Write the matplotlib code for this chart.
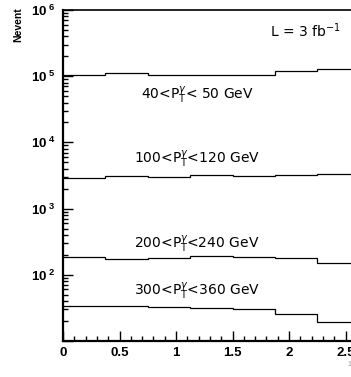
import numpy as np
import matplotlib
matplotlib.use('Agg')
import matplotlib.pyplot as plt
from matplotlib.ticker import FixedLocator, LogLocator, FuncFormatter, NullFormatter

plt.rcParams['font.family'] = ['Liberation Sans', 'DejaVu Sans']
plt.rcParams['mathtext.fontset'] = 'custom'
plt.rcParams['mathtext.rm'] = 'DejaVu Sans'
plt.rcParams['mathtext.it'] = 'DejaVu Sans:italic'
plt.rcParams['mathtext.bf'] = 'Liberation Sans:bold'

# eta bins (width 0.375)
edges = [0, 0.375, 0.75, 1.125, 1.5, 1.875, 2.25, 2.625]

# number of events per bin for each photon pT window
n_40_50 = [1.05e5, 1.10e5, 1.04e5, 1.06e5, 1.06e5, 1.21e5, 1.30e5]
n_100_120 = [2.91e3, 3.12e3, 3.01e3, 3.27e3, 3.16e3, 3.27e3, 3.39e3]
n_200_240 = [185, 175, 179, 189, 185, 179, 150]
n_300_360 = [33.6, 34.3, 32.4, 31.3, 30.2, 25.9, 19.6]

labels = [r'40<P$_{\rm T}^{\gamma}$< 50 GeV', r'100<P$_{\rm T}^{\gamma}$<120 GeV',
          r'200<P$_{\rm T}^{\gamma}$<240 GeV', r'300<P$_{\rm T}^{\gamma}$<360 GeV']

W, H = 351, 377
fig = plt.figure(figsize=(W / 100, H / 100), dpi=100)
# frame runs past the right edge of the page
ax = fig.add_axes([63 / W, 1 - 341 / H, 339 / W, 331 / H])

for n in [n_40_50, n_100_120, n_200_240, n_300_360]:
    ax.stairs(n, edges, color='black', lw=0.9, baseline=None)

ax.set_yscale('log')
ax.set_ylim(10, 1e6)
ax.set_xlim(0, 3)

for s in ['left', 'bottom']:
    ax.spines[s].set_linewidth(1.6)
ax.spines['top'].set_linewidth(1.2)
ax.spines['right'].set_linewidth(1.2)

ax.xaxis.set_major_locator(FixedLocator([0, 0.5, 1, 1.5, 2, 2.5]))
ax.xaxis.set_minor_locator(FixedLocator(np.arange(0, 3.01, 0.1)))
ax.xaxis.set_major_formatter(FuncFormatter(lambda v, p: '%g' % v))
ax.yaxis.set_major_locator(LogLocator(base=10, numticks=10))
ax.yaxis.set_minor_locator(LogLocator(base=10, subs=np.arange(2, 10), numticks=50))
ax.yaxis.set_minor_formatter(NullFormatter())


def sci(v, p):
    e = int(round(np.log10(v)))
    if e < 2:
        return ''
    return r'$\mathbf{10}^{\ \mathbf{%d}}$' % e


ax.yaxis.set_major_formatter(FuncFormatter(sci))
ax.tick_params(which='both', direction='in', top=False, right=False, width=1.0)
ax.tick_params(which='major', length=7)
ax.tick_params(which='minor', length=3.5)
ax.tick_params(axis='x', which='major', pad=4, labelsize=9.5)
ax.tick_params(axis='y', which='major', pad=5, labelsize=9.5)
for t in ax.get_xticklabels():
    t.set_fontweight('bold')

fig.text(18 / W, 1 - 25 / H, 'Nevent', rotation=90, ha='center', va='center',
         fontsize=7.5, fontweight='bold')
fig.text(305 / W, 1 - 36.7 / H, r'L = 3 fb$^{-1}$', fontsize=10,
         family='DejaVu Sans', ha='center', va='baseline')

text_y = [100, 163.3, 249, 295.7]
for lab, py in zip(labels, text_y):
    fig.text(197 / W, 1 - py / H, lab, fontsize=10, family='DejaVu Sans',
             ha='center', va='baseline')

fig.text(347 / W, 1 - 366 / H, '1', fontsize=5, color='0.6', va='baseline')

fig.savefig('out.png', dpi=100)
